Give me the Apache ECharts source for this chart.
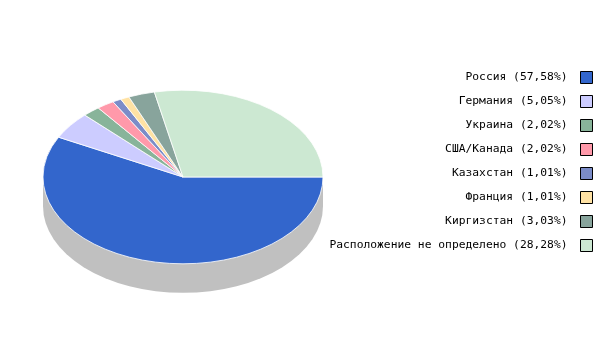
<!DOCTYPE html>
<html>
<head>
<meta charset="utf-8">
<script src="https://cdn.jsdelivr.net/npm/echarts@6/dist/echarts.min.js"></script>
<style>html,body{margin:0;padding:0;background:#fff}#c{width:600px;height:352px}</style>
</head>
<body>
<div id="c"></div>
<script>
const categories = ['Россия','Германия','Украина','США/Канада','Казахстан','Франция','Киргизстан','Расположение не определено'];
const shares = [57.58, 5.05, 2.02, 2.02, 1.01, 1.01, 3.03, 28.28];
const colors = ['#3366cc','#ccccff','#88b49a','#ff99aa','#7b8cc8','#ffe2a4','#88a49c','#cce8d2'];

const total = shares.reduce((a, b) => a + b, 0);
const CX = 183, CY = 177, R = 140, K = 0.62, DEPTH = 29;
const labels = categories.map((c, i) => c + ' (' + shares[i].toFixed(2).replace('.', ',') + '%)');

function cumBefore(i) { let s = 0; for (let j = 0; j < i; j++) s += shares[j]; return s; }

const series = [{
  type: 'custom',
  name: '__side',
  coordinateSystem: 'none',
  silent: true,
  data: [[0]],
  renderItem: function () {
    return {
      type: 'group',
      children: [
        { type: 'group', x: CX, y: CY + DEPTH, scaleY: K,
          children: [{ type: 'circle', shape: { cx: 0, cy: 0, r: R }, style: { fill: '#c0c0c0' } }] },
        { type: 'rect', shape: { x: CX - R, y: CY, width: 2 * R, height: DEPTH }, style: { fill: '#c0c0c0' } }
      ]
    };
  }
}];

categories.forEach((c, i) => {
  series.push({
    type: 'custom',
    name: labels[i],
    coordinateSystem: 'none',
    itemStyle: { color: colors[i] },
    data: [[shares[i], cumBefore(i)]],
    renderItem: function (params, api) {
      const v = api.value(0), start = api.value(1);
      const a0 = start / total * Math.PI * 2;
      const a1 = (start + v) / total * Math.PI * 2;
      return {
        type: 'group', x: CX, y: CY, scaleY: K,
        children: [{
          type: 'sector',
          shape: { cx: 0, cy: 0, r0: 0, r: R, startAngle: a0, endAngle: a1, clockwise: true },
          style: { fill: colors[i], stroke: '#ffffff', lineWidth: 1 }
        }]
      };
    }
  });
});

const chart = echarts.init(document.getElementById('c'), null, { renderer: 'canvas' });
chart.setOption({
  animation: false,
  backgroundColor: '#ffffff',
  legend: {
    data: labels,
    orient: 'vertical',
    right: 2,
    top: 66,
    align: 'right',
    itemWidth: 12,
    itemHeight: 12,
    itemGap: 11,
    icon: 'rect',
    selectedMode: false,
    itemStyle: { borderColor: '#000', borderWidth: 1 },
    textStyle: { fontFamily: 'DejaVu Sans Mono', fontSize: 11.3, color: '#000', padding: [0, 8, 0, 0] }
  },
  series: series
});
</script>
</body>
</html>
